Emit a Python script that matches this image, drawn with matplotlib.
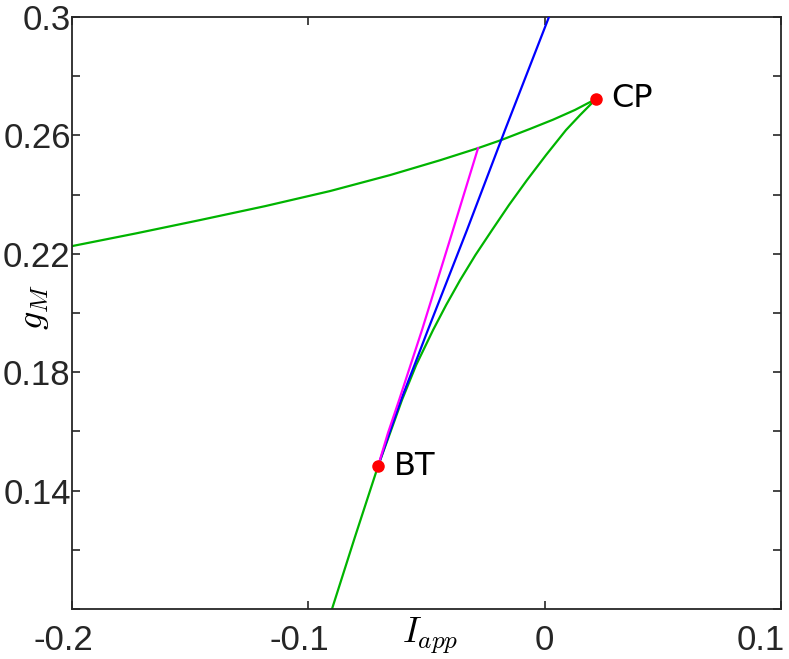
import matplotlib
matplotlib.use("Agg")
import matplotlib.pyplot as plt
from matplotlib.ticker import FixedLocator, FixedFormatter
from matplotlib.transforms import ScaledTranslation

# two-parameter bifurcation diagram (I_app, g_M)
# fold curve, upper branch: left edge -> CP
fold_up_x = [-0.2000, -0.1729, -0.1458, -0.1183, -0.0908, -0.0654, -0.0443, -0.0282,
             -0.0185, -0.0062, 0.0035, 0.0128, 0.0217]
fold_up_y = [0.2226, 0.2269, 0.2314, 0.2361, 0.2412, 0.2466, 0.2516, 0.2557,
             0.2584, 0.2622, 0.2653, 0.2686, 0.2723]
# fold curve, lower branch: CP -> BT -> bottom edge
fold_lo_x = [0.0217, 0.0150, 0.0090, 0.0006, -0.0075, -0.0151, -0.0223, -0.0293,
             -0.0358, -0.0417, -0.0472, -0.0544, -0.0604, -0.0654, -0.0705, -0.0803, -0.0904]
fold_lo_y = [0.2723, 0.2669, 0.2618, 0.2534, 0.2449, 0.2365, 0.2280, 0.2196,
             0.2111, 0.2027, 0.1943, 0.1824, 0.1706, 0.1595, 0.1483, 0.1243, 0.0990]
# hopf curve (blue), from BT upward
hopf_x = [-0.0705, -0.0657, -0.0608, -0.0551, -0.0494, -0.0329, -0.0168, 0.0018, 0.0035]
hopf_y = [0.1483, 0.1595, 0.1706, 0.1824, 0.1943, 0.2280, 0.2618, 0.3000, 0.3034]
# homoclinic curve (magenta), from BT
homo_x = [-0.0705, -0.0663, -0.0616, -0.0519, -0.0401, -0.0282]
homo_y = [0.1483, 0.1595, 0.1706, 0.1943, 0.2247, 0.2557]
# codim-2 points
pts_x = [0.0217, -0.0705]
pts_y = [0.2723, 0.1483]
pts_lbl = ["CP", "BT"]

yticks = [0.10, 0.12, 0.14, 0.16, 0.18, 0.20, 0.22, 0.24, 0.26, 0.28, 0.30]
ytick_lbls = ["", "", "0.14", "", "0.18", "", "0.22", "", "0.26", "", "0.3"]
xticks = [-0.2, -0.1, 0.0, 0.1]
xtick_lbls = ["-0.2", "-0.1", "0", "0.1"]

plt.rcParams["axes.unicode_minus"] = False
plt.rcParams["mathtext.fontset"] = "cm"

fig = plt.figure(figsize=(7.89, 6.59), dpi=100)
ax = fig.add_axes([0.0913, 0.0759, 0.8986, 0.8983])

green = "#00b400"
ax.plot(fold_up_x, fold_up_y, color=green, lw=1.6, zorder=2)
ax.plot(fold_lo_x, fold_lo_y, color=green, lw=1.6, zorder=2)
ax.plot(hopf_x, hopf_y, color="#0000ff", lw=1.6, zorder=3)
ax.plot(homo_x, homo_y, color="#ff00ff", lw=1.6, zorder=4)
ax.plot(pts_x, pts_y, "o", color="#ff0000", ms=8, zorder=5)
for x, y, s in zip(pts_x, pts_y, pts_lbl):
    ax.text(x + 0.0066, y, s, fontsize=23, family="DejaVu Sans", va="center", ha="left")

ax.set_xlim(-0.2, 0.1)
ax.set_ylim(0.1, 0.3)
ax.xaxis.set_major_locator(FixedLocator(xticks))
ax.xaxis.set_major_formatter(FixedFormatter(xtick_lbls))
ax.yaxis.set_major_locator(FixedLocator(yticks))
ax.yaxis.set_major_formatter(FixedFormatter(ytick_lbls))
ax.tick_params(direction="in", length=6, width=1.2, colors="#262626",
               top=True, right=True, labelsize=25)
ax.tick_params(axis="x", pad=11)
ax.tick_params(axis="y", pad=1)
for lbl in ax.get_xticklabels() + ax.get_yticklabels():
    lbl.set_family("Liberation Sans")

# x tick labels sit a little left of their ticks in the original
shifts = [-8.5, -8.5, 0, -20]
for lbl, dx in zip(ax.get_xticklabels(), shifts):
    lbl.set_transform(lbl.get_transform() + ScaledTranslation(dx / 100, 0, fig.dpi_scale_trans))

for sp in ax.spines.values():
    sp.set_linewidth(1.3)
    sp.set_color("#262626")

ax.text(0.505, -0.045, r"$I_{app}$", transform=ax.transAxes, fontsize=26,
        ha="center", va="center")
ax.text(-0.053, 0.51, r"$g_M$", transform=ax.transAxes, fontsize=26,
        ha="center", va="center", rotation=90)

fig.savefig("out.png", dpi=100)
